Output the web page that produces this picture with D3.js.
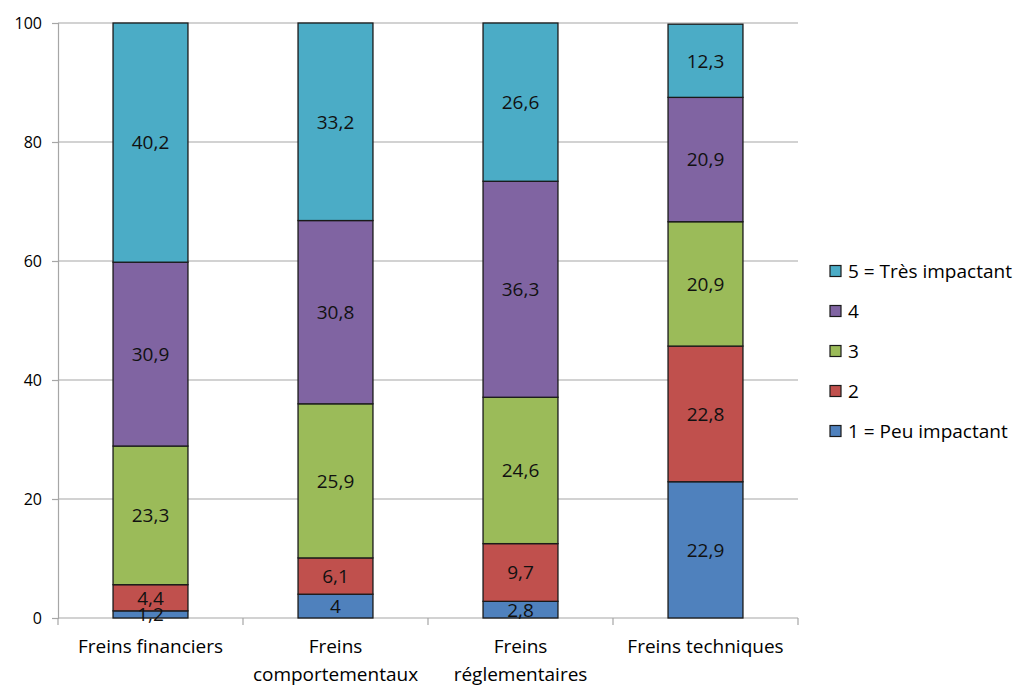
<!DOCTYPE html>
<html><head><meta charset="utf-8">
<script src="https://cdn.jsdelivr.net/npm/d3@7"></script>
<style>body{margin:0;background:#fff}svg{display:block}text{font-family:"Open Sans",Lato,sans-serif}</style>
</head><body><svg id="c" width="1018" height="686"></svg>
<script>
const categories = [["Freins financiers"],["Freins","comportementaux"],["Freins","réglementaires"],["Freins techniques"]];
const seriesNames = ["1 = Peu impactant","2","3","4","5 = Très impactant"];
const s1 = [1.2, 4, 2.8, 22.9];
const s2 = [4.4, 6.1, 9.7, 22.8];
const s3 = [23.3, 25.9, 24.6, 20.9];
const s4 = [30.9, 30.8, 36.3, 20.9];
const s5 = [40.2, 33.2, 26.6, 12.3];
const yTicks = [0,20,40,60,80,100];
const colors = ["#4F81BD","#C0504D","#9BBB59","#8064A2","#4BACC6"];

const series = [s1,s2,s3,s4,s5];
const svg = d3.select("#c");
const L=58,R=798,T=23,B=618;
const x = d3.scaleBand().domain(d3.range(categories.length)).range([L,R]).paddingInner(0.595).paddingOuter(0.2975);
const y = d3.scaleLinear().domain([0,100]).range([B,T]);

// gridlines
svg.append("g").selectAll("line").data(yTicks.filter(d=>d>0)).join("line")
  .attr("x1",L).attr("x2",R).attr("y1",d=>y(d)).attr("y2",d=>y(d)).attr("stroke","#a6a6a6").attr("stroke-width",1.2);

const yAxis = svg.append("g").attr("transform",`translate(${L},0)`).call(d3.axisLeft(y).tickValues(yTicks).tickSize(6).tickPadding(10));
yAxis.select(".domain").attr("stroke","#a6a6a6").attr("stroke-width",1.2);
yAxis.selectAll(".tick line").attr("stroke","#a6a6a6").attr("stroke-width",1.2);
yAxis.selectAll("text").attr("font-size",16).attr("fill","#000").attr("font-family","'Open Sans',sans-serif");

// bottom axis line and tick marks at boundaries
const band = (R-L)/categories.length;
svg.append("line").attr("x1",L).attr("x2",R).attr("y1",B).attr("y2",B).attr("stroke","#a6a6a6").attr("stroke-width",1.2);
svg.append("g").selectAll("line").data(d3.range(categories.length+1)).join("line")
  .attr("x1",i=>L+i*band).attr("x2",i=>L+i*band).attr("y1",B).attr("y2",B+7).attr("stroke","#a6a6a6").attr("stroke-width",1.2);

// stacked bars
const stackData = categories.map((c,i)=>{const o={i}; series.forEach((s,k)=>o["s"+k]=s[i]); return o;});
const stack = d3.stack().keys(series.map((s,k)=>"s"+k))(stackData);
const g = svg.append("g");
stack.forEach((layer,k)=>{
  g.append("g").selectAll("rect").data(layer).join("rect")
    .attr("x",d=>x(d.data.i)).attr("width",x.bandwidth())
    .attr("y",d=>y(d[1])).attr("height",d=>y(d[0])-y(d[1]))
    .attr("fill",colors[k]).attr("stroke","#1a1a1a").attr("stroke-width",1.3);
});
stack.forEach((layer,k)=>{
  g.append("g").selectAll("text").data(layer).join("text")
    .attr("x",d=>x(d.data.i)+x.bandwidth()/2).attr("y",d=>(y(d[0])+y(d[1]))/2)
    .attr("dy","0.36em").attr("text-anchor","middle").attr("font-size",19).attr("fill","#111")
    .text(d=>String(series[k][d.data.i]).replace(".",","));
});

// category labels
const cl = svg.append("g");
categories.forEach((lines,i)=>{
  lines.forEach((t,j)=>{
    cl.append("text").attr("x",x(i)+x.bandwidth()/2).attr("y",653+j*28).attr("text-anchor","middle")
      .attr("font-size",19).attr("fill","#000").text(t);
  });
});

// legend
const legY = [271,311,351,391,431];
const lg = svg.append("g");
[4,3,2,1,0].forEach((k,j)=>{
  lg.append("rect").attr("x",830).attr("y",legY[j]-5.5).attr("width",11).attr("height",11)
    .attr("fill",colors[k]).attr("stroke","#1a1a1a").attr("stroke-width",1.2);
  lg.append("text").attr("x",848).attr("y",legY[j]).attr("dy","0.36em").attr("font-size",19).attr("fill","#000").text(seriesNames[k]);
});
</script></body></html>
